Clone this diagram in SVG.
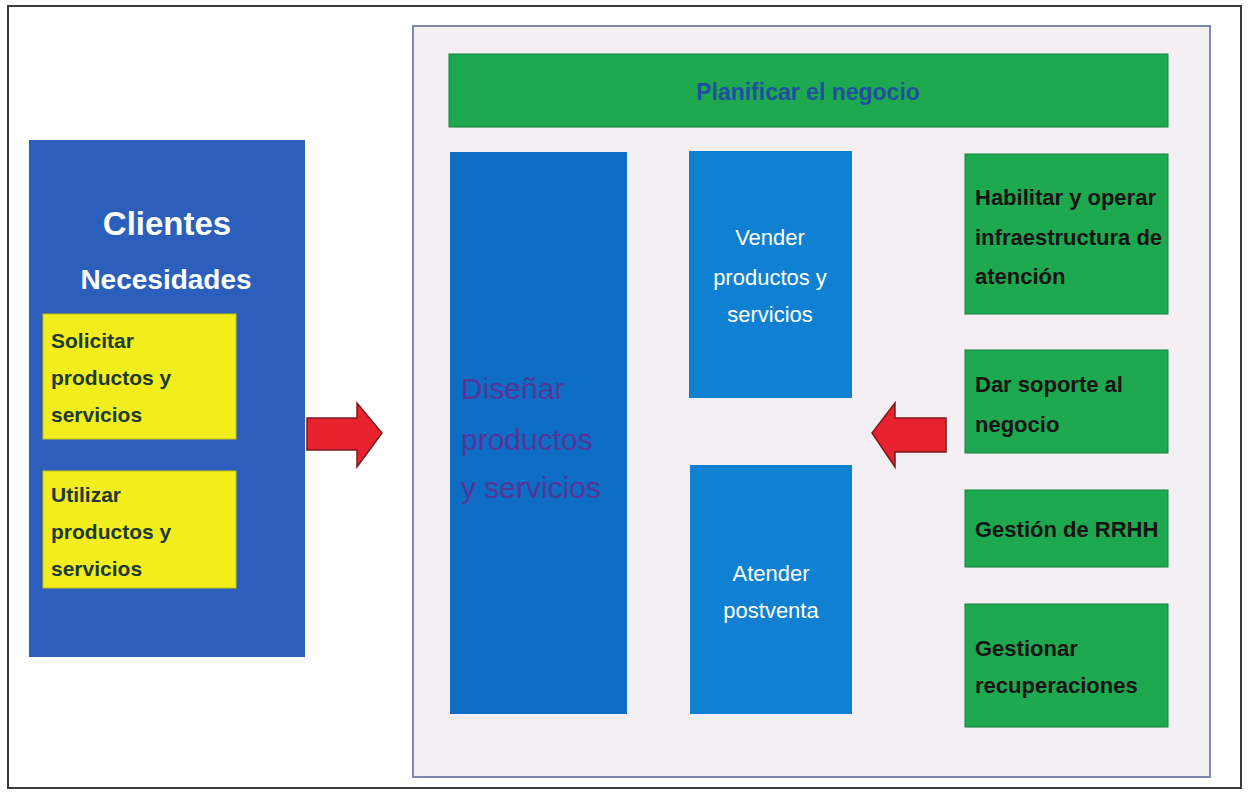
<svg xmlns="http://www.w3.org/2000/svg" width="1248" height="792" viewBox="0 0 1248 792">
  <style>
    .frame { fill: #ffffff; stroke: #3a3a3a; stroke-width: 2; }
    .panel { fill: #f3eff3; stroke: #8088aa; stroke-width: 2; }
    .green { fill: #1ea84f; stroke: #17803c; stroke-width: 1; }
    .yellow { fill: #f2ee1e; stroke: #c9c40f; stroke-width: 1; }
    .blueA { fill: #2b5fbb; }
    .blueD { fill: #0d6cc4; }
    .blueV { fill: #1081d2; }
    .arrow { fill: #e8222e; stroke: #7a1a20; stroke-width: 1.5; stroke-linejoin: miter; }
    text { font-family: "Liberation Sans", Arial, sans-serif; }
    .bk { font-size: 22px; font-weight: bold; fill: #141414; }
    .yl { font-size: 21px; font-weight: bold; fill: #1f3a2c; }
    .wt { font-size: 22px; fill: #ffffff; text-anchor: middle; }
    .pl { font-size: 30px; fill: #553597; }
  </style>
  <rect x="0" y="0" width="1248" height="792" fill="#ffffff"/>
  <rect class="frame" x="8" y="6" width="1233" height="782"/>

  <g id="panel">
    <rect class="panel" x="413" y="26" width="797" height="751"/>
  </g>

  <g id="clientes">
    <rect class="blueA" x="29" y="140" width="276" height="517"/>
    <text x="167" y="235" font-size="33" font-weight="bold" fill="#ffffff" text-anchor="middle">Clientes</text>
    <text x="166" y="289" font-size="28" font-weight="bold" fill="#ffffff" text-anchor="middle">Necesidades</text>
  </g>

  <g id="solicitar">
    <rect class="yellow" x="43" y="314" width="193" height="125"/>
    <text class="yl" x="51" y="348">Solicitar</text>
    <text class="yl" x="51" y="385">productos y</text>
    <text class="yl" x="51" y="422">servicios</text>
  </g>

  <g id="utilizar">
    <rect class="yellow" x="43" y="471" width="193" height="117"/>
    <text class="yl" x="51" y="502">Utilizar</text>
    <text class="yl" x="51" y="539">productos y</text>
    <text class="yl" x="51" y="576">servicios</text>
  </g>

  <g id="planificar">
    <rect class="green" x="449" y="54" width="719" height="73"/>
    <text x="808" y="100" font-size="23" font-weight="bold" fill="#1f4f9e" text-anchor="middle">Planificar el negocio</text>
  </g>

  <g id="disenar">
    <rect class="blueD" x="450" y="152" width="177" height="562"/>
    <text class="pl" x="461" y="399">Diseñar</text>
    <text class="pl" x="461" y="450">productos</text>
    <text class="pl" x="461" y="498">y servicios</text>
  </g>

  <g id="vender">
    <rect class="blueV" x="689" y="151" width="163" height="247"/>
    <text class="wt" x="770" y="245">Vender</text>
    <text class="wt" x="770" y="285">productos y</text>
    <text class="wt" x="770" y="322">servicios</text>
  </g>

  <g id="atender">
    <rect class="blueV" x="690" y="465" width="162" height="249"/>
    <text class="wt" x="771" y="581">Atender</text>
    <text class="wt" x="771" y="618">postventa</text>
  </g>

  <g id="habilitar">
    <rect class="green" x="965" y="154" width="203" height="160"/>
    <text class="bk" x="975" y="205">Habilitar y operar</text>
    <text class="bk" x="975" y="245">infraestructura de</text>
    <text class="bk" x="975" y="284">atención</text>
  </g>

  <g id="soporte">
    <rect class="green" x="965" y="350" width="203" height="103"/>
    <text class="bk" x="975" y="392">Dar soporte al</text>
    <text class="bk" x="975" y="432">negocio</text>
  </g>

  <g id="rrhh">
    <rect class="green" x="965" y="490" width="203" height="77"/>
    <text class="bk" x="975" y="537">Gestión de RRHH</text>
  </g>

  <g id="recuperaciones">
    <rect class="green" x="965" y="604" width="203" height="123"/>
    <text class="bk" x="975" y="656">Gestionar</text>
    <text class="bk" x="975" y="693">recuperaciones</text>
  </g>

  <g id="connectors">
    <polygon class="arrow" points="307,418 357,418 357,403 382,433 357,467 357,450 307,450"/>
    <polygon class="arrow" points="946,418 895,418 895,403 872,433 895,467 895,452 946,452"/>
  </g>
</svg>
